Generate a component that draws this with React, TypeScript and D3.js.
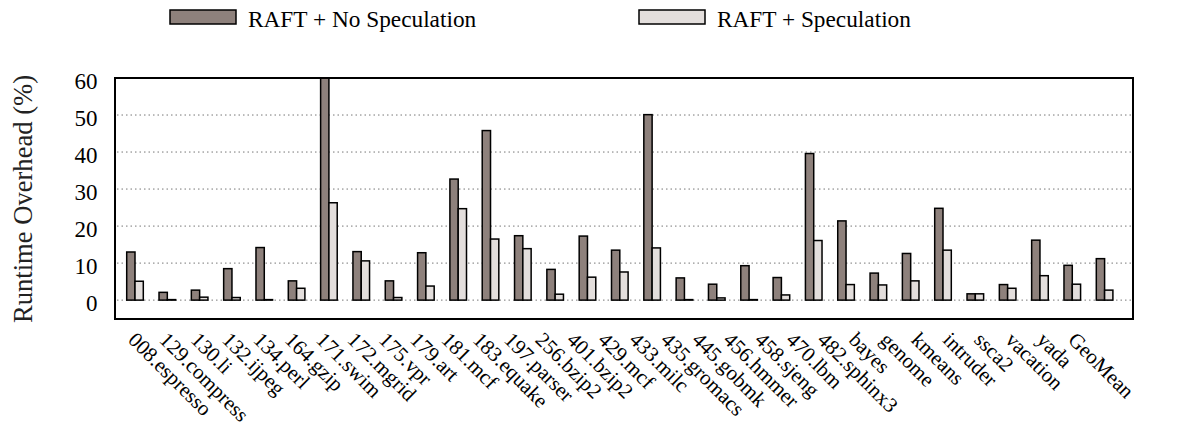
import React from "react";
import * as d3 from "d3";

const categories = [
  "008.espresso", "129.compress", "130.li", "132.ijpeg", "134.perl", "164.gzip",
  "171.swim", "172.mgrid", "175.vpr", "179.art", "181.mcf", "183.equake",
  "197.parser", "256.bzip2", "401.bzip2", "429.mcf", "433.milc", "435.gromacs",
  "445.gobmk", "456.hmmer", "458.sjeng", "470.lbm", "482.sphinx3", "bayes",
  "genome", "kmeans", "intruder", "ssca2", "vacation", "yada", "GeoMean",
];

const noSpeculation = [
  13.0, 2.1, 2.7, 8.5, 14.2, 5.2, 60.0, 13.1, 5.2, 12.8, 32.7, 45.8,
  17.4, 8.3, 17.3, 13.5, 50.1, 6.0, 4.3, 9.3, 6.1, 39.6, 21.4, 7.3,
  12.6, 24.8, 1.7, 4.2, 16.2, 9.4, 11.2,
];

const speculation = [
  5.1, 0.0, 0.8, 0.7, 0.1, 3.2, 26.3, 10.6, 0.7, 3.8, 24.7, 16.5,
  13.9, 1.6, 6.2, 7.6, 14.1, 0.0, 0.6, 0.1, 1.4, 16.1, 4.2, 4.1,
  5.2, 13.5, 1.7, 3.2, 6.6, 4.3, 2.7,
];

const yTicks = [0, 10, 20, 30, 40, 50, 60];
const seriesNames = ["RAFT + No Speculation", "RAFT + Speculation"];
const seriesColors = ["#8e817c", "#e3dedc"];

export default function App() {
  const W = 1178;
  const H = 436;
  const frame = { left: 115, right: 1133, top: 78, bottom: 319 };
  const fontStyle = { fontFamily: '"Liberation Serif", "DejaVu Serif", serif' };

  const y = d3.scaleLinear().domain([-5.1, 60]).range([frame.bottom, frame.top]);
  const step = 32.32;
  const x = d3
    .scaleBand<string>()
    .domain(categories)
    .range([135 - step / 2, 135 - step / 2 + step * categories.length])
    .padding(0);
  const barW = 8.3;
  const sub = d3.scaleBand<number>().domain([0, 1]).range([-barW, barW]).padding(0);
  // tick-label anchors (slightly tighter spacing than bar groups, as in the reference)
  const xl = d3.scalePoint<string>().domain(categories).range([127, 1067]);

  const series = [noSpeculation, speculation];
  const legendX = [170, 639];

  return (
    <svg width={W} height={H} style={{ display: "block", position: "absolute", left: 0, top: 0 }}>
      <rect x={0} y={0} width={W} height={H} fill="#fff" />
      {/* legend */}
      {seriesNames.map((name, i) => {
        const lx = legendX[i];
        return (
          <g key={name}>
            <rect x={lx} y={10} width={66} height={14} fill={seriesColors[i]} stroke="#000" strokeWidth={1.5} />
            <text x={lx + 78} y={26.5} style={fontStyle} fontSize={23.3} fill="#000">
              {name}
            </text>
          </g>
        );
      })}
      {/* grid */}
      {yTicks.filter((t) => t < 60).map((t) => (
        <line
          key={t}
          x1={frame.left + 2}
          x2={frame.right - 2}
          y1={y(t)}
          y2={y(t)}
          stroke="#777"
          strokeWidth={1}
          strokeDasharray="1.5,3"
        />
      ))}
      {/* bars */}
      {categories.map((c, i) => {
        const cx = (x(c) as number) + x.bandwidth() / 2;
        return (
          <g key={c}>
            {series.map((s, k) => {
              const v = s[i];
              const top = Math.min(y(v), y(0) - 0.5);
              return (
                <rect
                  key={k}
                  x={cx + (sub(k) as number)}
                  y={top}
                  width={sub.bandwidth()}
                  height={y(0) - top}
                  fill={seriesColors[k]}
                  stroke="#000"
                  strokeWidth={1.5}
                />
              );
            })}
          </g>
        );
      })}
      {/* frame */}
      <rect
        x={frame.left}
        y={frame.top}
        width={frame.right - frame.left}
        height={frame.bottom - frame.top}
        fill="none"
        stroke="#000"
        strokeWidth={2}
      />
      {/* y ticks */}
      {yTicks.map((t) => (
        <text
          key={t}
          x={97.5}
          y={y(t) + 3}
          dy="0.35em"
          textAnchor="end"
          style={fontStyle}
          fontSize={23}
          fill="#000"
        >
          {t}
        </text>
      ))}
      <text
        transform={`translate(32, 199) rotate(-90)`}
        textAnchor="middle"
        style={fontStyle}
        fontSize={26.6}
        fill="#222"
      >
        Runtime Overhead (%)
      </text>
      {/* x labels */}
      {categories.map((c) => (
        <text
          key={c}
          transform={`translate(${xl(c)}, 341) rotate(45)`}
          style={fontStyle}
          fontSize={21}
          fill="#000"
        >
          {c}
        </text>
      ))}
    </svg>
  );
}
